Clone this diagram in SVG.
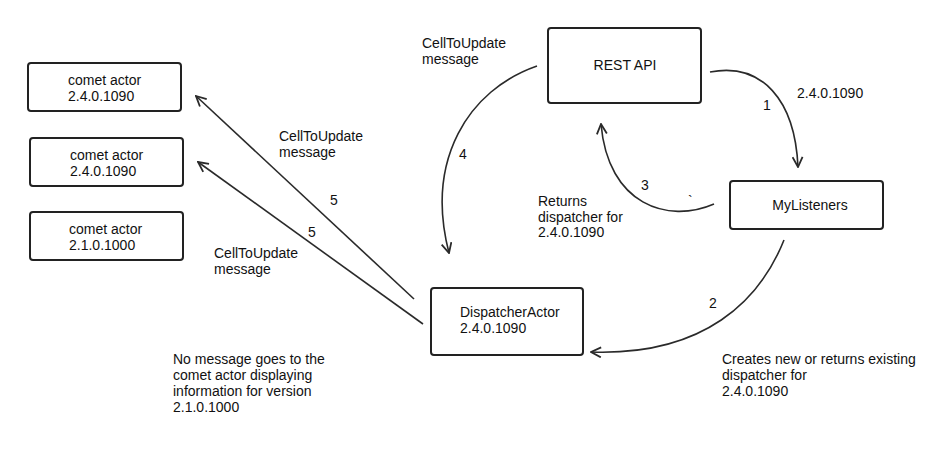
<svg xmlns="http://www.w3.org/2000/svg" width="935" height="456" viewBox="0 0 935 456">
<style>
.box{fill:#fff;stroke:#222;stroke-width:2}
.t{font-family:"Liberation Sans",Arial,sans-serif;font-size:14px;fill:#111}
.c{fill:none;stroke:#2a2a2a;stroke-width:1.6}
</style>
<defs>
<marker id="arr" viewBox="0 0 12 12" refX="11" refY="6" markerWidth="12" markerHeight="12" markerUnits="userSpaceOnUse" orient="auto">
<path d="M1,1 L11,6 L1,11" fill="none" stroke="#2a2a2a" stroke-width="1.8"/>
</marker>
</defs>
<rect width="935" height="456" fill="#fff"/>
<g id="comet1"><rect class="box" x="28" y="63" width="153" height="48" rx="3"/><text class="t" x="68" y="85">comet actor</text><text class="t" x="68" y="101">2.4.0.1090</text></g>
<g id="comet2"><rect class="box" x="30" y="138" width="153" height="48" rx="3"/><text class="t" x="70" y="160">comet actor</text><text class="t" x="70" y="176">2.4.0.1090</text></g>
<g id="comet3"><rect class="box" x="30" y="212" width="153" height="48" rx="3"/><text class="t" x="69" y="234">comet actor</text><text class="t" x="69" y="250">2.1.0.1000</text></g>
<g id="restapi"><rect class="box" x="548" y="28" width="153" height="75" rx="3"/><text class="t" x="625" y="70" text-anchor="middle">REST API</text></g>
<g id="mylisteners"><rect class="box" x="730" y="181" width="153" height="48" rx="3"/><text class="t" x="810" y="210" text-anchor="middle">MyListeners</text></g>
<g id="dispatcher"><rect class="box" x="431" y="288" width="152" height="67" rx="3"/><text class="t" x="460" y="317">DispatcherActor</text><text class="t" x="460" y="333">2.4.0.1090</text></g>
<g id="connectors">
<path class="c" d="M710,72 C762,62 795,100 798,167" marker-end="url(#arr)"/>
<path class="c" d="M784,240 C760,300 705,356 591,352" marker-end="url(#arr)"/>
<path class="c" d="M714,204 C668,224 608,205 601,124" marker-end="url(#arr)"/>
<path class="c" d="M537,66 C468,90 425,160 449,253" marker-end="url(#arr)"/>
<path class="c" d="M414,299 L196,96" marker-end="url(#arr)"/>
<path class="c" d="M423,324 L198,162" marker-end="url(#arr)"/>
</g>
<g id="labels">
<text class="t" x="422" y="48">CellToUpdate</text><text class="t" x="422" y="64">message</text>
<text class="t" x="797" y="98">2.4.0.1090</text>
<text class="t" x="763" y="110">1</text>
<text class="t" x="459" y="159">4</text>
<text class="t" x="641" y="190">3</text>
<text class="t" x="688" y="206">`</text>
<text class="t" x="538" y="206">Returns</text><text class="t" x="538" y="222">dispatcher for</text><text class="t" x="538" y="237">2.4.0.1090</text>
<text class="t" x="279" y="141">CellToUpdate</text><text class="t" x="279" y="157">message</text>
<text class="t" x="330" y="205">5</text>
<text class="t" x="308" y="237">5</text>
<text class="t" x="214" y="258">CellToUpdate</text><text class="t" x="214" y="274">message</text>
<text class="t" x="709" y="308">2</text>
<text class="t" x="173" y="364">No message goes to the</text><text class="t" x="173" y="380">comet actor displaying</text><text class="t" x="173" y="396">information for version</text><text class="t" x="173" y="412">2.1.0.1000</text>
<text class="t" x="722" y="364">Creates new or returns existing</text><text class="t" x="722" y="380">dispatcher for</text><text class="t" x="722" y="396">2.4.0.1090</text>
</g>
</svg>
